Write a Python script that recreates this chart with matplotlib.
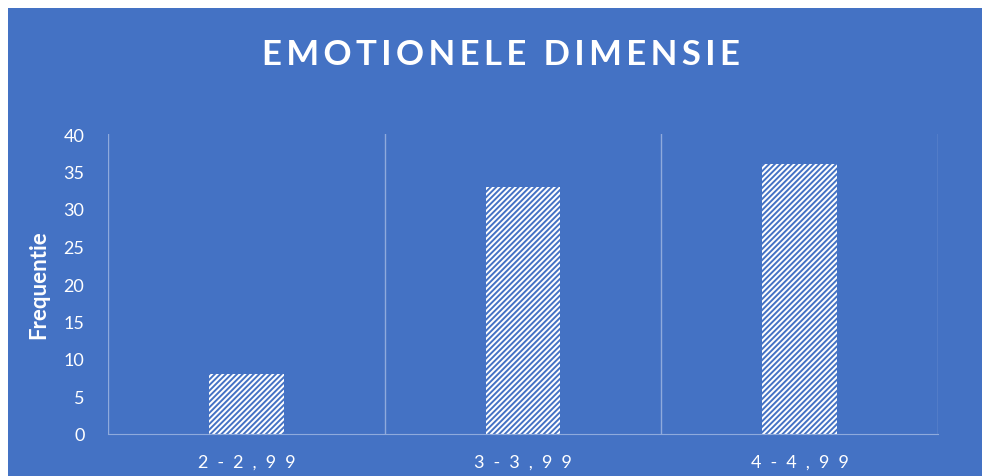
import numpy as np
import matplotlib.pyplot as plt

categories = ['2-2,99', '3-3,99', '4-4,99']
counts = [8, 33, 36]
yticks = [0, 5, 10, 15, 20, 25, 30, 35, 40]

blue = '#4472C4'
line_col = '#8FAADC'

plt.rcParams['font.family'] = ['Lato', 'DejaVu Sans']
plt.rcParams['hatch.linewidth'] = 1.4

W, H = 982, 477
fig = plt.figure(figsize=(W / 100, H / 100), dpi=100)
fig.patch.set_facecolor('white')

# blue chart area (white strip on top and left)
bg = fig.add_axes([8 / W, 0, 1 - 8 / W, (H - 9) / H], zorder=-1)
bg.set_facecolor(blue)
bg.set_xticks([])
bg.set_yticks([])
for s in bg.spines.values():
    s.set_visible(False)

ax = fig.add_axes([108 / W, (H - 435) / H, (938 - 108) / W, 300 / H])
ax.set_facecolor('none')

x = np.arange(len(categories))
ax.bar(x, counts, width=0.27, color='white', edgecolor=blue, hatch='//////',
       linewidth=0, zorder=2)

ax.set_xlim(-0.5, len(categories) - 0.5)
ax.set_ylim(0, 40)
ax.set_yticks(yticks)
ax.set_yticklabels([str(t) for t in yticks], color='white', fontsize=13)
ax.set_xticks(x)
ax.set_xticklabels(['\u2002'.join(c) for c in categories], color='white', fontsize=13)
ax.tick_params(axis='both', length=0)
ax.tick_params(axis='y', pad=17)
ax.tick_params(axis='x', pad=14)

for b in np.arange(-0.5, len(categories), 1.0):
    ax.axvline(b, color=line_col, linewidth=1, zorder=1)

for s in ['top', 'right', 'left']:
    ax.spines[s].set_visible(False)
ax.spines['bottom'].set_color(line_col)

ax.set_ylabel('Frequentie', color='white', fontsize=16, fontweight='bold')
ax.yaxis.set_label_coords(-0.071, 0.5)

fig.text(0.51, (H - 55) / H, '\u2009'.join('EMOTIONELE DIMENSIE'),
         color='white', fontsize=25, fontweight='bold', ha='center', va='center')

fig.savefig('out.png', dpi=100)
